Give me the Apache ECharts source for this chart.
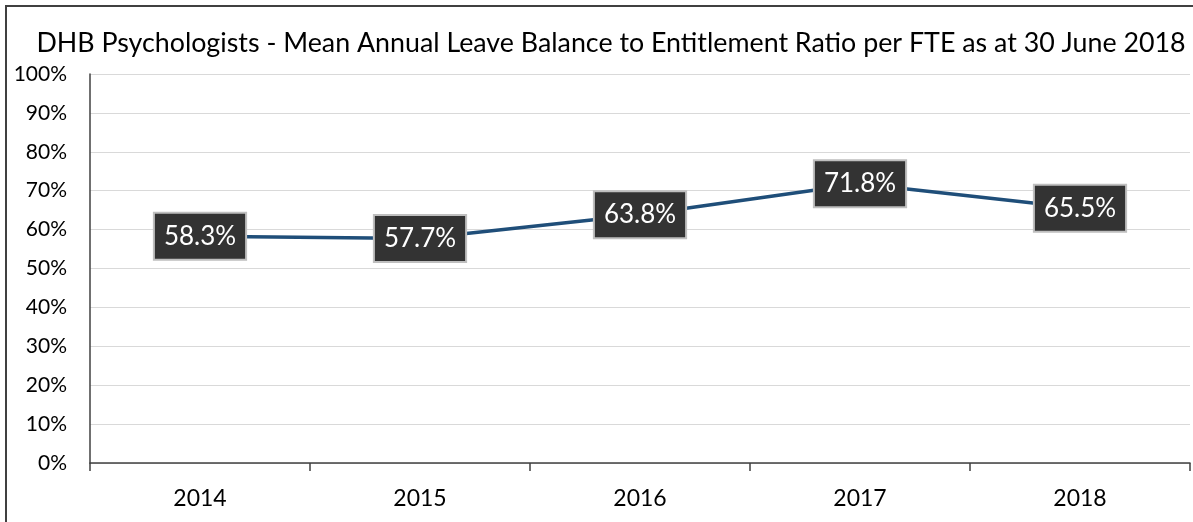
<!DOCTYPE html>
<html><head><meta charset="utf-8">
<script src="https://cdn.jsdelivr.net/npm/echarts@6/dist/echarts.min.js"></script>
<style>html,body{margin:0;padding:0;background:#fff}#c{width:1193px;height:522px}</style>
</head><body><div id="c"></div>
<script>
const categories = ['2014','2015','2016','2017','2018'];
const values = [58.3, 57.7, 63.8, 71.8, 65.5];
const titleText = 'DHB Psychologists - Mean Annual Leave Balance to Entitlement Ratio per FTE as at 30 June 2018';
const font = 'Lato, "Open Sans", sans-serif';
const chart = echarts.init(document.getElementById('c'), null, {renderer:'canvas'});
chart.setOption({
  animation:false,
  backgroundColor:'#fff',
  title:{text:titleText,left:606,top:25,textAlign:'center',textStyle:{fontFamily:font,fontWeight:'normal',fontSize:26.8,color:'#000'}},
  graphic:[{type:'rect',shape:{x:6,y:6,width:1250,height:560},style:{fill:'none',stroke:'#404040',lineWidth:2},silent:true}],
  grid:{left:90,right:3,top:74,bottom:59,containLabel:false},
  xAxis:{type:'category',data:categories,boundaryGap:true,
    axisLine:{lineStyle:{color:'#404040',width:1.5}},
    axisTick:{show:true,length:8,lineStyle:{color:'#404040',width:1.5}},
    axisLabel:{fontFamily:font,fontSize:23,color:'#000',margin:24}},
  yAxis:{type:'value',min:0,max:100,interval:10,
    axisLine:{show:true,lineStyle:{color:'#404040',width:1.5}},
    axisTick:{show:false},
    splitLine:{lineStyle:{color:'#d9d9d9',width:1}},
    axisLabel:{fontFamily:font,fontSize:21,color:'#000',margin:23,formatter:v=>v+'%'}},
  series:[{type:'line',data:values,symbol:'circle',symbolSize:1,showSymbol:true,
    itemStyle:{color:'#1f4e79'},
    lineStyle:{color:'#1f4e79',width:3.5},
    label:{show:true,position:'inside',formatter:p=>p.value.toFixed(1)+'%',
      fontFamily:font,fontSize:26,color:'#fff',backgroundColor:'#333333',
      borderColor:'#bfbfbf',borderWidth:2,padding:[10,9,9,9]}}]
});
</script></body></html>
